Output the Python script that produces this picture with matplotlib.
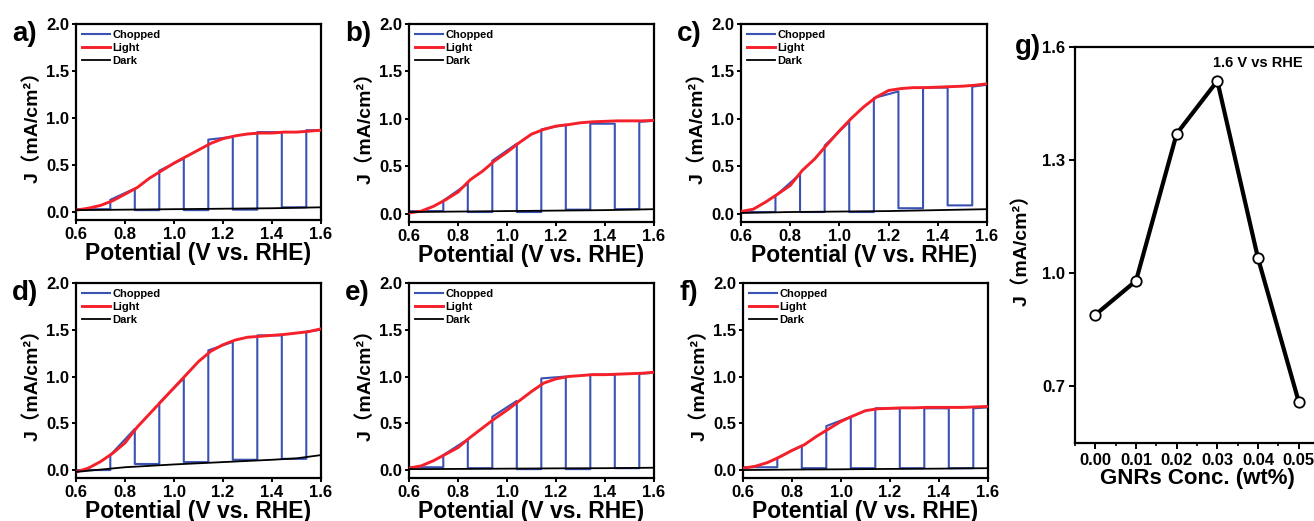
import matplotlib
matplotlib.use("Agg")
import matplotlib.pyplot as plt
from matplotlib.ticker import MultipleLocator
import numpy as np

# Constants
OUTPUT_FILE = "out.png"
FIG_W, FIG_H = 1314, 521
DPI = 100

BLUE = "#3a52b4"
RED = "#f5202a"
BLACK = "#000000"

PANELS = ["a)", "b)", "c)", "d)", "e)", "f)"]

# Light (red) curves, sampled every 0.05 V from 0.6 to 1.6 V
v_light = [0.60, 0.65, 0.70, 0.75, 0.80, 0.85, 0.90, 0.95, 1.00, 1.05, 1.10,
           1.15, 1.20, 1.25, 1.30, 1.35, 1.40, 1.45, 1.50, 1.55, 1.60]
j_light = [
    [0.02, 0.04, 0.07, 0.12, 0.19, 0.26, 0.36, 0.44, 0.52, 0.59, 0.66,
     0.73, 0.78, 0.81, 0.83, 0.84, 0.84, 0.85, 0.85, 0.86, 0.87],  # a
    [0.01, 0.03, 0.08, 0.15, 0.23, 0.36, 0.45, 0.56, 0.65, 0.75, 0.84,
     0.89, 0.925, 0.94, 0.96, 0.97, 0.975, 0.98, 0.98, 0.98, 0.985],  # b
    [0.025, 0.05, 0.125, 0.21, 0.30, 0.46, 0.58, 0.73, 0.875, 1.01, 1.13,
     1.23, 1.30, 1.32, 1.33, 1.33, 1.335, 1.34, 1.345, 1.355, 1.37],  # c
    [-0.02, 0.02, 0.09, 0.18, 0.29, 0.46, 0.60, 0.74, 0.88, 1.02, 1.16,
     1.27, 1.34, 1.39, 1.42, 1.43, 1.44, 1.45, 1.465, 1.48, 1.51],  # d
    [0.02, 0.045, 0.10, 0.17, 0.24, 0.35, 0.45, 0.55, 0.64, 0.74, 0.84,
     0.93, 0.975, 1.00, 1.01, 1.02, 1.02, 1.025, 1.03, 1.035, 1.045],  # e
    [0.02, 0.04, 0.08, 0.14, 0.21, 0.27, 0.36, 0.44, 0.52, 0.58, 0.635,
     0.655, 0.66, 0.665, 0.665, 0.67, 0.67, 0.67, 0.67, 0.675, 0.68],  # f
]

# Dark (black) curves
v_dark = [0.6, 0.8, 1.0, 1.2, 1.4, 1.5, 1.6]
j_dark = [
    [0.02, 0.025, 0.03, 0.035, 0.04, 0.045, 0.05],  # a
    [0.02, 0.025, 0.03, 0.035, 0.04, 0.045, 0.05],  # b
    [0.01, 0.02, 0.025, 0.03, 0.04, 0.045, 0.05],  # c
    [-0.02, 0.03, 0.06, 0.085, 0.11, 0.125, 0.16],  # d
    [0.01, 0.012, 0.015, 0.018, 0.02, 0.022, 0.025],  # e
    [0.0, 0.005, 0.008, 0.012, 0.015, 0.018, 0.02],  # f
]

# Chopped (blue) curves: light switched on at v_on, off at v_off
v_on = [0.74, 0.94, 1.14, 1.34, 1.54]
v_off = [0.84, 1.04, 1.24, 1.44]
# current at start and end of each light-on window
j_chop_on = [
    [(0.13, 0.25), (0.44, 0.57), (0.77, 0.80), (0.85, 0.85), (0.87, 0.87)],  # a
    [(0.14, 0.32), (0.56, 0.74), (0.89, 0.94), (0.95, 0.95), (0.97, 0.98)],  # b
    [(0.19, 0.42), (0.72, 0.97), (1.22, 1.29), (1.33, 1.33), (1.34, 1.36)],  # c
    [(0.16, 0.44), (0.72, 0.98), (1.28, 1.37), (1.44, 1.44), (1.48, 1.50)],  # d
    [(0.16, 0.33), (0.57, 0.74), (0.98, 1.00), (1.02, 1.02), (1.03, 1.04)],  # e
    [(0.13, 0.26), (0.47, 0.57), (0.66, 0.66), (0.66, 0.66), (0.66, 0.67)],  # f
]
# current during each dark window
j_chop_off = [
    [0.03, 0.02, 0.02, 0.025, 0.05],  # a
    [0.03, 0.02, 0.02, 0.045, 0.05],  # b
    [0.02, 0.02, 0.02, 0.06, 0.09],  # c
    [0.0, 0.065, 0.085, 0.11, 0.12],  # d
    [0.03, 0.02, 0.01, 0.01, 0.02],  # e
    [0.03, 0.02, 0.02, 0.02, 0.02],  # f
]

# Panel g: photocurrent at 1.6 V vs RHE against GNRs loading
gnr_conc = [0.00, 0.01, 0.02, 0.03, 0.04, 0.05]
j_at_16 = [0.89, 0.98, 1.37, 1.51, 1.04, 0.66]
g_yticks = [0.7, 1.0, 1.3, 1.6]

# Axes boxes in pixels: left, top, right, bottom
BOXES = [
    (76, 24, 321, 220), (409, 24, 654, 222), (741, 24, 987, 222),
    (76, 283, 321, 478), (409, 283, 654, 478), (743, 283, 988, 478),
]
BOX_G = (1075, 47, 1319, 443)

plt.rcParams["font.family"] = ["Liberation Sans", "Noto Sans CJK SC"]
plt.rcParams["font.weight"] = "bold"
plt.rcParams["axes.linewidth"] = 1.6
plt.rcParams["xtick.major.width"] = 1.4
plt.rcParams["ytick.major.width"] = 1.4
plt.rcParams["xtick.minor.width"] = 1.2
plt.rcParams["ytick.minor.width"] = 1.2

YLABEL = "J（mA/cm²）"


def box_to_rect(box):
    l, t, r, b = box
    return [l / FIG_W, 1 - b / FIG_H, (r - l) / FIG_W, (b - t) / FIG_H]


def chopped_path(on_vals, off_vals):
    # step trace between dark windows and light-on windows
    xs = [0.6, v_on[0]]
    ys = [off_vals[0], off_vals[0]]
    for k, (js, je) in enumerate(on_vals):
        x_end = v_off[k] if k < len(v_off) else 1.6
        xs += [v_on[k], x_end]
        ys += [js, je]
        if k < len(v_off):
            xs += [v_off[k], v_on[k + 1]]
            ys += [off_vals[k + 1], off_vals[k + 1]]
    return xs, ys


def style_jv_axis(ax):
    ax.set_xlim(0.6, 1.6)
    ax.set_ylim(-0.085, 2.0)
    ax.xaxis.set_major_locator(MultipleLocator(0.2))
    ax.yaxis.set_major_locator(MultipleLocator(0.5))
    ax.xaxis.set_major_formatter(plt.FormatStrFormatter("%.1f"))
    ax.yaxis.set_major_formatter(plt.FormatStrFormatter("%.1f"))
    ax.tick_params(direction="out", length=3, labelsize=12, pad=2)
    ax.set_xlabel("Potential (V vs. RHE)", fontsize=16.5, fontweight="bold", labelpad=0)
    ax.set_ylabel(YLABEL, fontsize=14, fontweight="bold", labelpad=3)


fig = plt.figure(figsize=(FIG_W / DPI, FIG_H / DPI), dpi=DPI)

for i, box in enumerate(BOXES):
    ax = fig.add_axes(box_to_rect(box))
    cx, cy = chopped_path(j_chop_on[i], j_chop_off[i])
    ax.plot(cx, cy, color=BLUE, lw=1.5, label="Chopped", zorder=2)
    ax.plot(v_light, j_light[i], color=RED, lw=2.1, label="Light", zorder=3)
    ax.plot(v_dark, j_dark[i], color=BLACK, lw=1.3, label="Dark", zorder=4)
    style_jv_axis(ax)
    ax.legend(loc="upper left", frameon=False, handlelength=2.6,
              handletextpad=0.15, labelspacing=0.3, borderaxespad=0.2,
              borderpad=0.3, prop={"weight": "bold", "size": 8})
    l, t = box[0], box[1]
    fig.text((l - 64) / FIG_W, 1 - (t + 10) / FIG_H, PANELS[i],
             fontsize=20, fontweight="bold", va="center", ha="left")

# Panel g
axg = fig.add_axes(box_to_rect(BOX_G))
axg.plot(gnr_conc, j_at_16, color=BLACK, lw=3.0, marker="o", ms=7.5,
         mfc="white", mec=BLACK, mew=1.3)
axg.set_xlim(-0.005, 0.055)
axg.set_ylim(0.55, 1.6)
axg.xaxis.set_major_locator(MultipleLocator(0.01))
axg.xaxis.set_minor_locator(MultipleLocator(0.005))
axg.set_yticks(g_yticks)
axg.xaxis.set_major_formatter(plt.FormatStrFormatter("%.2f"))
axg.yaxis.set_major_formatter(plt.FormatStrFormatter("%.1f"))
axg.tick_params(which="major", direction="out", length=4, labelsize=12, pad=3)
axg.tick_params(which="minor", direction="out", length=2.5)
axg.set_xlabel("GNRs Conc. (wt%)", fontsize=16, fontweight="bold", labelpad=0)
axg.set_ylabel(YLABEL, fontsize=14, fontweight="bold", labelpad=8)
axg.text(0.0289, 1.557, "1.6 V vs RHE", fontsize=10.5, fontweight="bold",
         ha="left", va="center")
fig.text(1015 / FIG_W, 1 - 47 / FIG_H, "g)", fontsize=20, fontweight="bold",
         va="center", ha="left")

fig.savefig(OUTPUT_FILE, dpi=DPI)
